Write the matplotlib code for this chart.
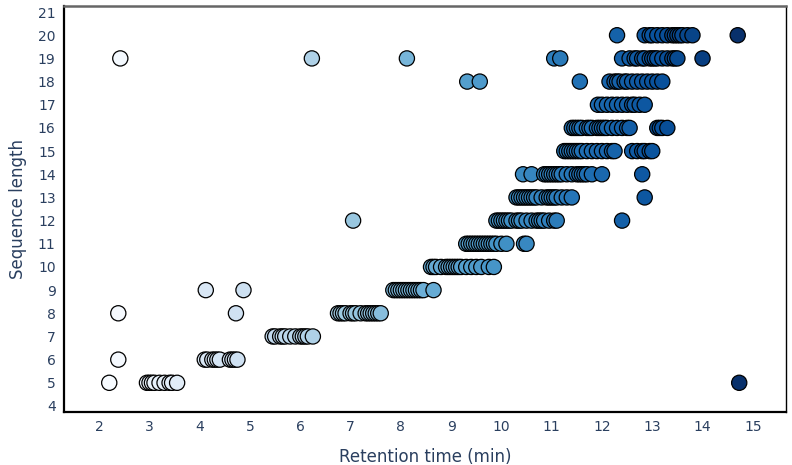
import matplotlib
matplotlib.use('Agg')
import matplotlib.pyplot as plt
import numpy as np

# retention times (min) for each sequence length
rt_by_length = {
    5: [2.2, 2.95, 3.0, 3.05, 3.1, 3.2, 3.3, 3.4, 3.45, 3.55, 14.73],
    6: [2.38, 4.1, 4.15, 4.25, 4.3, 4.35, 4.4, 4.6, 4.65, 4.7, 4.75],
    7: [5.45, 5.5, 5.6, 5.65, 5.7, 5.8, 5.9, 6.0, 6.05, 6.1, 6.15, 6.25],
    8: [2.38, 4.72, 6.75, 6.8, 6.85, 6.9, 7.0, 7.05, 7.1, 7.2, 7.3, 7.35, 7.4, 7.45, 7.5, 7.55, 7.6],
    9: [4.12, 4.87, 7.85, 7.9, 7.95, 8.0, 8.05, 8.1, 8.15, 8.2, 8.25, 8.3, 8.35, 8.4, 8.45, 8.65],
    10: [8.6, 8.65, 8.7, 8.8, 8.9, 8.95, 9.0, 9.05, 9.1, 9.15, 9.2, 9.3, 9.4, 9.5, 9.6, 9.75, 9.85],
    11: [9.3, 9.35, 9.4, 9.45, 9.5, 9.55, 9.6, 9.65, 9.7, 9.75, 9.8, 9.85, 9.9, 10.0, 10.1, 10.45, 10.5],
    12: [7.05, 9.9, 9.95, 10.0, 10.05, 10.1, 10.15, 10.2, 10.3, 10.35, 10.4, 10.5, 10.6, 10.7, 10.75,
         10.8, 10.85, 10.95, 11.05, 11.1, 12.4],
    13: [10.3, 10.35, 10.4, 10.45, 10.5, 10.55, 10.6, 10.65, 10.7, 10.8, 10.9, 10.95, 11.0, 11.05,
         11.1, 11.2, 11.3, 11.4, 12.85],
    14: [10.43, 10.6, 10.85, 10.9, 10.95, 11.0, 11.05, 11.1, 11.15, 11.2, 11.3, 11.4, 11.5, 11.55,
         11.6, 11.65, 11.7, 11.8, 12.0, 12.8],
    15: [11.25, 11.3, 11.35, 11.4, 11.45, 11.5, 11.55, 11.6, 11.7, 11.8, 11.9, 12.0, 12.1, 12.2,
         12.25, 12.6, 12.7, 12.8, 12.85, 12.95, 13.0],
    16: [11.4, 11.45, 11.5, 11.55, 11.6, 11.7, 11.75, 11.8, 11.9, 11.95, 12.0, 12.05, 12.1, 12.2,
         12.3, 12.4, 12.5, 12.55, 13.1, 13.15, 13.2, 13.3],
    17: [11.92, 12.0, 12.1, 12.2, 12.3, 12.4, 12.5, 12.6, 12.65, 12.75, 12.85],
    18: [9.32, 9.57, 11.56, 12.15, 12.25, 12.3, 12.35, 12.45, 12.5, 12.6, 12.7, 12.8, 12.9, 13.0,
         13.1, 13.2],
    19: [2.42, 6.23, 8.12, 11.05, 11.17, 12.4, 12.55, 12.65, 12.7, 12.8, 12.85, 12.95, 13.0, 13.05,
         13.1, 13.2, 13.3, 13.4, 13.45, 13.5, 14.0],
    20: [12.3, 12.85, 12.95, 13.0, 13.1, 13.2, 13.3, 13.4, 13.45, 13.5, 13.55, 13.6, 13.7, 13.8, 14.7],
}

xs = []
ys = []
for length, rts in rt_by_length.items():
    xs += rts
    ys += [length] * len(rts)
xs = np.array(xs)
ys = np.array(ys)

TEXT = '#2a3f5f'

fig = plt.figure(figsize=(7.92, 4.65), dpi=100)
ax = fig.add_axes([0.0808, 0.114, 0.9116, 0.873])

ax.scatter(xs, ys, c=xs, cmap='Blues', vmin=xs.min(), vmax=xs.max(),
           s=120, edgecolors='black', linewidths=0.9, zorder=3)

ax.set_xlim(1.3, 15.66)
ax.set_ylim(3.74, 21.26)
ax.set_xticks(range(2, 16))
ax.set_yticks(range(4, 22))
ax.tick_params(length=0, labelsize=10, labelcolor=TEXT, pad=6)

for side in ['left', 'bottom']:
    ax.spines[side].set_linewidth(1.6)
    ax.spines[side].set_color('black')
ax.spines['top'].set_linewidth(1.8)
ax.spines['top'].set_color('#666666')
ax.spines['right'].set_linewidth(1.0)
ax.spines['right'].set_color('black')

ax.set_xlabel('Retention time (min)', fontsize=12, color=TEXT)
ax.xaxis.set_label_coords(0.5, -0.088)
ax.set_ylabel('Sequence length', fontsize=12, color=TEXT, labelpad=8)

fig.savefig('out.png', dpi=100)
